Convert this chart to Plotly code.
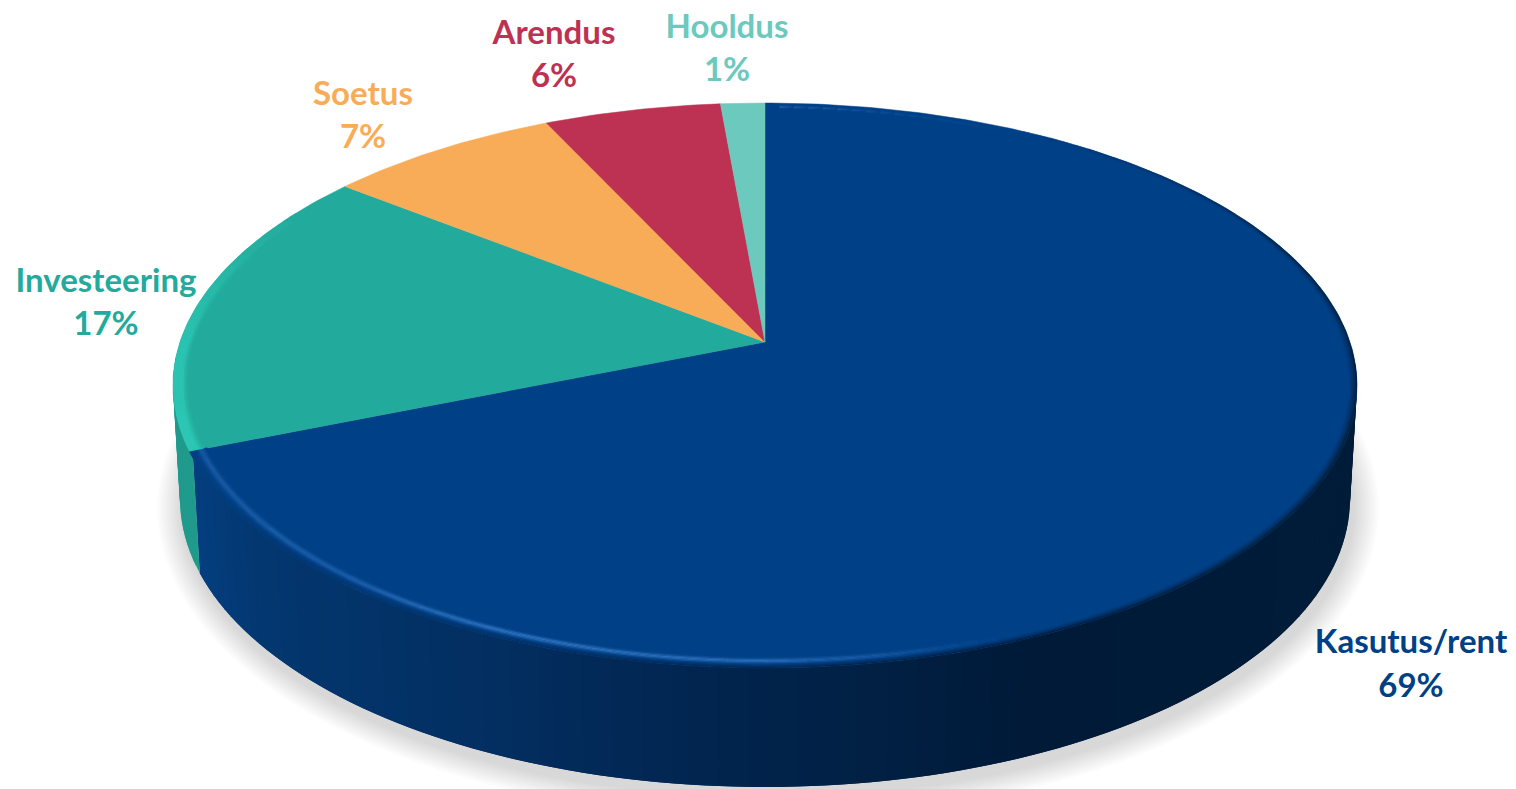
import numpy as np
import plotly.graph_objects as go

# ---- data ----
categories = ["Kasutus/rent", "Investeering", "Soetus", "Arendus", "Hooldus"]
values = [68.9, 16.7, 7.4, 5.6, 1.4]          # drawn slice shares, clockwise from 12 o'clock
slice_colors = ["#004086", "#22ab9c", "#f9ac58", "#bd3252", "#6cc9be"]

# ---- label placement (page pixels) ----
label_x = [1411, 106, 363, 554, 727]
name_y = [645, 284, 97, 36, 30]
share_y = [689, 327, 140, 79, 73]

# ---- pseudo-3D geometry (page pixels) ----
CX, CY = 765, 342           # pie centre on the top face
A, B, K = 585, 275.8, 0.154 # perspective circle -> page mapping
BOT_CY, BOT_RX, BOT_RY = 499, 585, 288
TOP_CY, TOP_RX, TOP_RY = 385.5, 592, 282.5


def project(theta, r=1.0):
    """theta in radians, clockwise from the top of the pie."""
    x = r * np.sin(theta)
    y = r * np.cos(theta)
    w = 1 + K * y
    return CX + A * x / w, CY - B * y / w


def hexrgb(h):
    return np.array([int(h[i:i + 2], 16) for i in (1, 3, 5)], float)


def tohex(c):
    return "#%02x%02x%02x" % tuple(int(round(np.clip(v, 0, 255))) for v in c)


def interp_rgb(x, xs, cols):
    arr = np.array([hexrgb(c) for c in cols])
    return np.array([np.interp(x, xs, arr[:, i]) for i in range(3)])


fig = go.Figure()


def poly(xs, ys, color):
    fig.add_trace(go.Scatter(x=xs, y=ys, mode="lines", fill="toself", fillcolor=color,
                             line=dict(color=color, width=0), hoverinfo="skip", showlegend=False))


# ---- soft shadow: stacked translucent ellipses ----
phi = np.linspace(0, 2 * np.pi, 240)
for grow in range(26, 0, -2):
    poly(768 + (BOT_RX + grow) * np.cos(phi), 508 + (BOT_RY + grow * 0.9) * np.sin(phi),
         "rgba(0,0,0,0.012)")

# ---- wall: overlapping strips with a horizontal gradient ----
wall_xs = [190, 260, 500, 700, 900, 1030, 1360]
wall_cs = ["#043f80", "#03376f", "#032e60", "#01254f", "#011f42", "#001a38", "#001c38"]
split = np.radians(165.4)
edges = np.radians(np.linspace(-6, 186, 129))
for i, (p0, p1) in enumerate(zip(edges[:-1], edges[1:])):
    pm = (p0 + p1) / 2
    pe = min(p1 + np.radians(1.5), edges[-1]) if abs(pm - split) > np.radians(2) or pm > split else p1
    ang = np.linspace(p0, pe, 4)
    xs = np.r_[CX + TOP_RX * np.cos(ang), CX + BOT_RX * np.cos(ang[::-1])]
    ys = np.r_[TOP_CY + TOP_RY * np.sin(ang), BOT_CY + BOT_RY * np.sin(ang[::-1])]
    col = "#1f9a8c" if pm > split else tohex(interp_rgb(CX + TOP_RX * np.cos(pm), wall_xs, wall_cs))
    poly(xs, ys, col)

# ---- top face slices, from the values ----
fractions = np.array(values) / sum(values)
bounds = np.concatenate([[0], np.cumsum(fractions)]) * 2 * np.pi
for i, col in enumerate(slice_colors):
    t = np.linspace(bounds[i], bounds[i + 1], max(3, int(fractions[i] * 500)))
    px, py = project(t)
    fig.add_trace(go.Scatter(x=np.r_[CX, px, CX], y=np.r_[CY, py, CY], mode="lines", fill="toself",
                             fillcolor=col, line=dict(color=col, width=0.5),
                             hoverinfo="skip", showlegend=False))

# ---- bevel on the rim of the top face, as thin filled ring pieces ----
NAVY, TEAL = hexrgb(slice_colors[0]), hexrgb(slice_colors[1])
kas_end, inv_end = bounds[1], bounds[2]
LIGHT = hexrgb("#2c70bd")
LIP = hexrgb("#2cc6b4")
groups = {}


def add_piece(t0, t1, r0, r1, color):
    # quantise so pieces share traces
    key = tohex(np.round(color / 3) * 3)
    xa, ya = project(np.array([t0, t1]), r0)
    xb, yb = project(np.array([t1, t0]), r1)
    g = groups.setdefault(key, ([], []))
    g[0].extend([xa[0], xa[1], xb[0], xb[1], xa[0], None])
    g[1].extend([ya[0], ya[1], yb[0], yb[1], ya[0], None])


band = 0.003
deltas = np.arange(0, 0.036, band)
seg = np.linspace(0, kas_end, 150)
hi_x = [192, 350, 500, 750, 900, 1010]
hi_s = [0.5, 0.65, 1.0, 0.92, 0.4, 0.0]
for d0 in deltas:
    dm = d0 + band / 2
    r0, r1 = 1 - d0 + 0.0004 * (d0 > 0), 1 - d0 - band
    prof = np.exp(-((dm - 0.019) / 0.0055) ** 2)
    dark = np.clip(1 - dm / 0.014, 0, 1) ** 1.3
    for t0, t1 in zip(seg[:-1], seg[1:]):
        tm = (t0 + t1) / 2
        xm, _ = project(tm, 1 - dm)
        s = np.interp(xm, hi_x, hi_s) * prof
        ds = np.interp(np.degrees(tm), [30, 70, 100], [0, 0.8, 1]) * dark
        if s < 0.01 and ds < 0.01:
            continue
        c = NAVY * (1 - s) + LIGHT * s
        c = c * (1 - ds) + interp_rgb(xm, wall_xs, wall_cs) * ds
        add_piece(t0, t1 + 0.002, r0, r1, c)

seg2 = np.linspace(kas_end, inv_end, 60)
for d0 in np.arange(0, 0.024, band):
    dm = d0 + band / 2
    r0, r1 = 1 - d0 + 0.0004 * (d0 > 0), 1 - d0 - band
    prof = np.clip((0.024 - dm) / 0.008, 0, 1)
    for t0, t1 in zip(seg2[:-1], seg2[1:]):
        ang = np.degrees((t0 + t1) / 2)
        s = np.interp(ang, [248, 270, 300], [1, 0.85, 0]) * prof
        if s < 0.01:
            continue
        add_piece(t0, t1 + 0.002, r0, r1, TEAL * (1 - s) + LIP * s)

for color, (x, y) in groups.items():
    fig.add_trace(go.Scatter(x=x, y=y, mode="lines", fill="toself", fillcolor=color,
                             line=dict(color=color, width=0), hoverinfo="skip", showlegend=False))

# ---- labels ----
shares = ["%d%%" % round(v) for v in values]
for ys, txt in ((name_y, categories), (share_y, shares)):
    fig.add_trace(go.Scatter(x=label_x, y=ys, mode="text", text=txt, textposition="middle center",
                             textfont=dict(family="Lato", size=33, weight=700, color=slice_colors),
                             hoverinfo="skip", showlegend=False))

fig.update_layout(width=1516, height=789, margin=dict(l=0, r=0, t=0, b=0),
                  paper_bgcolor="white", plot_bgcolor="white", showlegend=False,
                  xaxis=dict(range=[0, 1516], visible=False, fixedrange=True),
                  yaxis=dict(range=[789, 0], visible=False, fixedrange=True))

fig.write_html("out.html", config=dict(displayModeBar=False),
               post_script="document.body.style.margin='0';document.body.style.overflow='hidden';")
